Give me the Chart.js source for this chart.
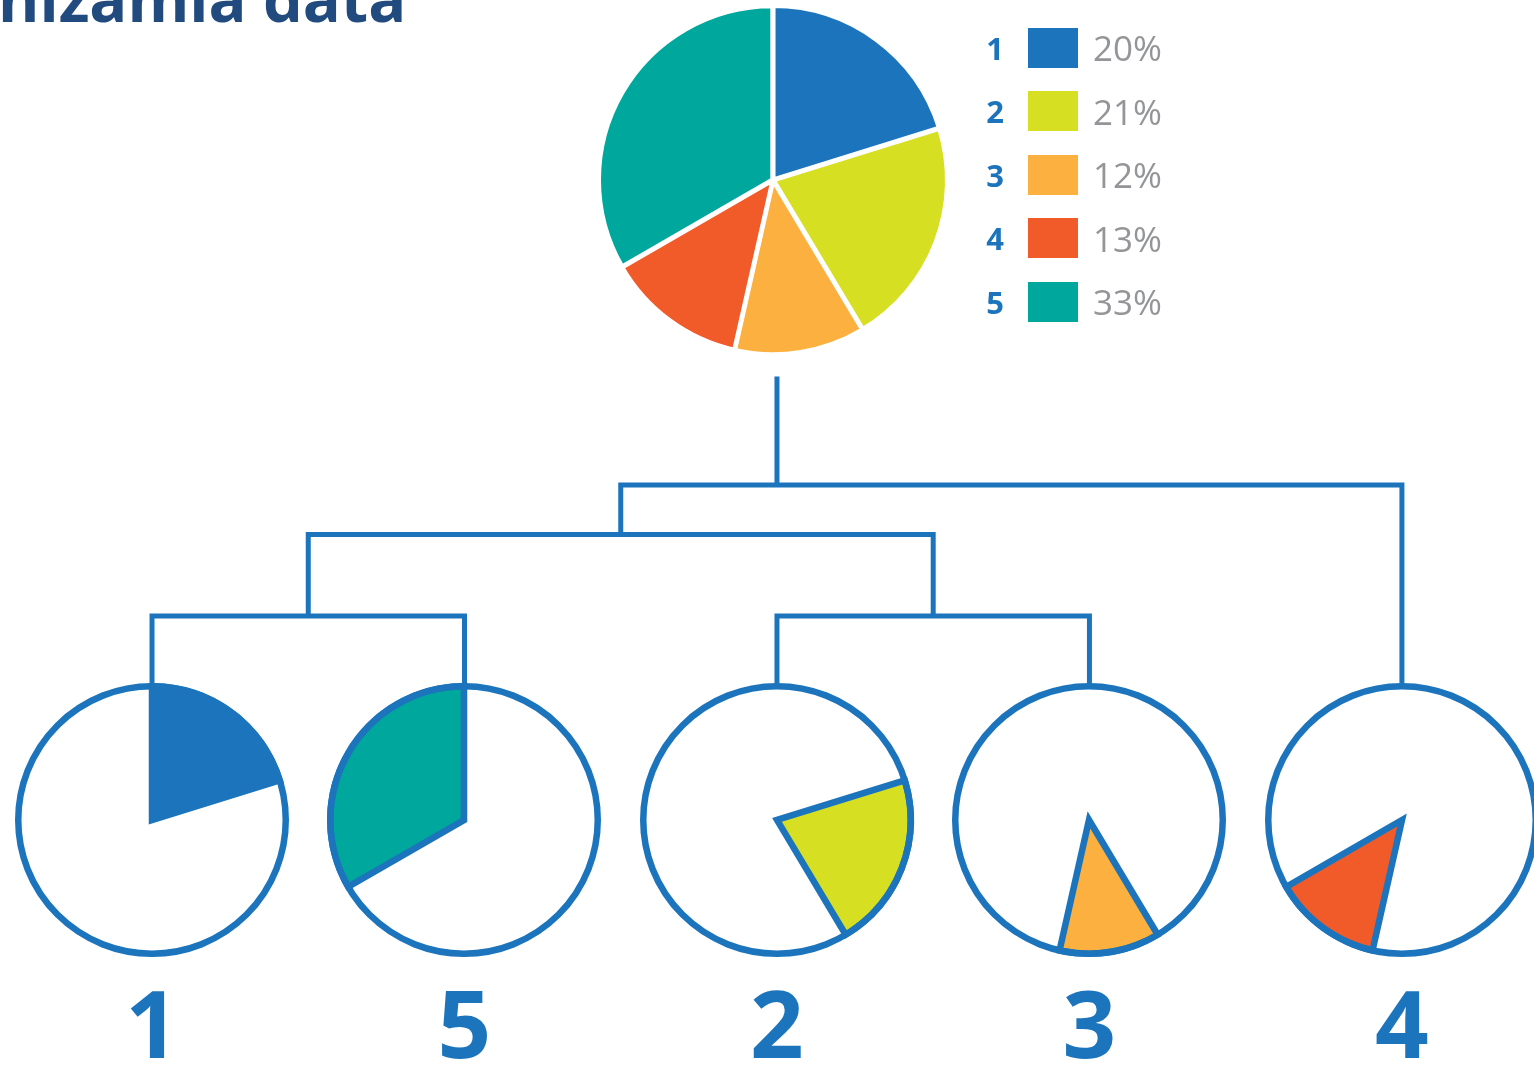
<!DOCTYPE html>
<html>
<head>
<meta charset="utf-8">
<script src="https://cdn.jsdelivr.net/npm/chart.js@4.4.1/dist/chart.umd.min.js"></script>
<style>
  html, body { margin: 0; padding: 0; background: #ffffff; }
  #stage { position: relative; width: 1534px; height: 1072px; overflow: hidden; background: #fff; }
  #title { position: absolute; left: -2px; top: -34px; font: 700 63px "Open Sans", sans-serif; color: #214b7f; line-height: 63px; white-space: nowrap; }
  #dendro { position: absolute; left: 0; top: 0; }
  .pie { position: absolute; }
  #legend { position: absolute; left: 980px; top: 16px; font-family: "Open Sans", sans-serif; }
  .row { display: flex; align-items: center; height: 63.5px; }
  .num { width: 30px; text-align: center; font-weight: 700; font-size: 31px; color: #1c75bc; }
  .sw { width: 50px; height: 40px; margin-left: 18px; }
  .pct { margin-left: 15px; font-size: 35px; color: #939598; }
</style>
</head>
<body>
<div id="stage">
  <div id="title">nizamia data</div>
  <canvas id="dendro" width="1534" height="1078"></canvas>
  <div id="legend"></div>
</div>
<script>
// ---- data ----
const categories = ['1', '2', '3', '4', '5'];
const shares = [20, 21, 12, 13, 33];
const shareLabels = ['20%', '21%', '12%', '13%', '33%'];
const colors = ['#1c75bc', '#d7df23', '#fbb040', '#f15a29', '#00a79d'];

// dendrogram: leaf order and merges (cluster distance levels)
const leafOrder = ['1', '5', '2', '3', '4'];
const mergeLeft = [['1'], ['2'], ['1', '5'], ['1', '5', '2', '3']];
const mergeRight = [['5'], ['3'], ['2', '3'], ['4']];
const mergeHeight = [1.0, 1.0, 2.2, 2.93];
const rootStemTop = 4.53;

// ---- styling / layout constants ----
const BLUE = '#1c75bc';
const LINE_W = 5;
const PIE_LINE_W = 6.5;
const LEAF_TOP_PX = 683;   // pixel where leaves meet the small pies
const UNIT_PX = 68;        // pixels per distance unit

// ---- legend (HTML text built from data) ----
const legend = document.getElementById('legend');
categories.forEach((c, i) => {
  const row = document.createElement('div');
  row.className = 'row';
  row.innerHTML = `<div class="num">${c}</div><div class="sw" style="background:${colors[i]}"></div><div class="pct">${shareLabels[i]}</div>`;
  legend.appendChild(row);
});

// ---- dendrogram built from merges ----
const keyOf = arr => arr.join(',');
const heightOfCluster = members => {
  if (members.length === 1) return 0;
  for (let k = 0; k < mergeLeft.length; k++) {
    if (keyOf(mergeLeft[k].concat(mergeRight[k])) === keyOf(members)) return mergeHeight[k];
  }
  return 0;
};
const xOfCluster = members => members.reduce((s, m) => s + leafOrder.indexOf(m), 0) / members.length;

const dendroSets = mergeLeft.map((L, k) => {
  const R = mergeRight[k];
  const lx = xOfCluster(L), rx = xOfCluster(R);
  const h = mergeHeight[k];
  return {
    data: [
      { x: lx, y: heightOfCluster(L) },
      { x: lx, y: h },
      { x: rx, y: h },
      { x: rx, y: heightOfCluster(R) }
    ]
  };
});
const rootMembers = mergeLeft[mergeLeft.length - 1].concat(mergeRight[mergeRight.length - 1]);
const rootX = xOfCluster(rootMembers);
dendroSets.push({ data: [{ x: rootX, y: mergeHeight[mergeHeight.length - 1] }, { x: rootX, y: rootStemTop }] });

dendroSets.forEach(ds => Object.assign(ds, {
  showLine: true, borderColor: BLUE, borderWidth: LINE_W, pointRadius: 0,
  borderJoinStyle: 'miter', borderCapStyle: 'butt', tension: 0, fill: false
}));

const dendro = new Chart(document.getElementById('dendro'), {
  type: 'scatter',
  data: { datasets: dendroSets },
  options: {
    responsive: false, animation: false, events: [],
    layout: { padding: 0 },
    plugins: { legend: { display: false }, tooltip: { enabled: false } },
    scales: {
      x: {
        type: 'linear', bounds: 'data', min: -0.4785, max: 4.4147,
        grid: { display: false, drawTicks: false }, border: { display: false },
        afterBuildTicks: axis => { axis.ticks = leafOrder.map((_, i) => ({ value: i })); },
        ticks: {
          autoSkip: false, maxRotation: 0, padding: 0,
          color: BLUE, font: { family: 'Open Sans', weight: '700', size: 94, lineHeight: 1.0 },
          callback: v => leafOrder[Math.round(v)]
        }
      },
      y: { type: 'linear', display: false, bounds: 'data', min: -4, max: 10 }
    }
  }
});
// fit the distance axis so leaves end at the top of the small pies
{
  const B = dendro.chartArea.bottom, T = dendro.chartArea.top;
  dendro.options.scales.y.min = -(B - LEAF_TOP_PX) / UNIT_PX;
  dendro.options.scales.y.max = (LEAF_TOP_PX - T) / UNIT_PX;
  dendro.update();
}

// ---- pies positioned via dendrogram scales ----
const stage = document.getElementById('stage');
const xs = dendro.scales.x, ys = dendro.scales.y;

const outlinePlugin = {
  id: 'outline',
  afterDatasetsDraw(chart, args, opts) {
    if (!opts.show) return;
    const a = chart.getDatasetMeta(0).data[0];
    const ctx = chart.ctx;
    ctx.save();
    ctx.beginPath();
    ctx.arc(a.x, a.y, a.outerRadius, 0, Math.PI * 2);
    ctx.lineWidth = opts.width;
    ctx.strokeStyle = opts.color;
    ctx.stroke();
    ctx.restore();
  }
};

function makeCanvas(cx, cy, size) {
  const c = document.createElement('canvas');
  c.className = 'pie';
  c.width = size; c.height = size;
  c.style.left = (cx - size / 2) + 'px';
  c.style.top = (cy - size / 2) + 'px';
  stage.appendChild(c);
  return c;
}

// main pie
const MAIN_SIZE = 362;
const mainCx = xs.getPixelForValue(rootX) - 4;
const mainCanvas = makeCanvas(mainCx, 180, MAIN_SIZE);
new Chart(mainCanvas, {
  type: 'pie',
  data: {
    labels: categories,
    datasets: [{ data: shares, backgroundColor: colors, borderColor: '#ffffff', borderWidth: 4.5, offset: 2 }]
  },
  options: {
    responsive: false, animation: false, events: [],
    layout: { padding: 4 },
    plugins: { legend: { display: false }, tooltip: { enabled: false } }
  }
});

// small pies, one per leaf
const SMALL_SIZE = 292;
const SMALL_R = 134;
leafOrder.forEach((leaf, i) => {
  const idx = categories.indexOf(leaf);
  const cx = xs.getPixelForValue(i);
  const cy = ys.getPixelForValue(0) + SMALL_R + 2;
  const cv = makeCanvas(cx, cy, SMALL_SIZE);
  new Chart(cv, {
    type: 'pie',
    data: {
      labels: categories,
      datasets: [{
        data: shares,
        backgroundColor: categories.map((_, j) => j === idx ? colors[j] : 'rgba(0,0,0,0)'),
        borderColor: BLUE,
        borderWidth: categories.map((_, j) => j === idx ? PIE_LINE_W : 0),
        borderJoinStyle: 'miter'
      }]
    },
    options: {
      responsive: false, animation: false, events: [],
      layout: { padding: 9 },
      plugins: { legend: { display: false }, tooltip: { enabled: false }, outline: { show: true, width: PIE_LINE_W, color: BLUE } }
    },
    plugins: [outlinePlugin]
  });
});
</script>
</body>
</html>
